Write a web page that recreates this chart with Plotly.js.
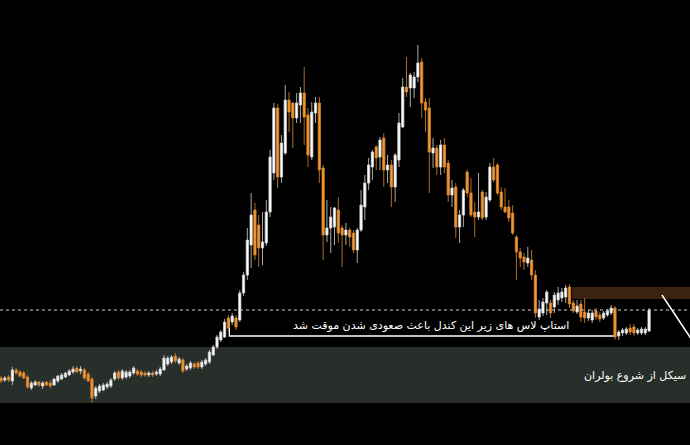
<!DOCTYPE html>
<html>
<head>
<meta charset="utf-8">
<script src="https://cdn.plot.ly/plotly-2.35.2.min.js"></script>
<style>
html,body{margin:0;padding:0;background:#000;overflow:hidden;}
#chart{width:690px;height:445px;}
</style>
</head>
<body>
<div id="chart"></div>
<script>
// Candle prices (arbitrary price units)
const openP = [67,65,68,64,75,73,72,68,57,60,63,59,63,62,60,64,66,68,70,73,
77,74,75,71,66,49,54,55,58,59,66,73,67,68,69,72,74,73,72,70,
72,71,71,75,81,83,89,82,85,76,77,81,82,78,81,83,90,98,105,108,
127,123,127,125,152,170,200,235,220,197,202,233,272,337,268,292,345,342,327,340,
352,330,288,332,342,277,210,217,218,235,217,210,215,212,195,215,238,262,278,298,
288,307,275,280,258,285,318,358,357,357,368,383,343,337,292,297,278,300,282,250,
258,218,230,273,252,233,228,253,228,245,278,280,253,238,238,232,208,193,188,182,
185,170,128,132,142,142,138,145,147,148,158,142,133,141,133,127,125,134,130,127,
130,132,137,109,112,112,117,118,112,112,112,114];
const highP = [69,69,70,78,77,75,74,70,64,65,64,64,64,65,67,70,72,73,76,79,
79,79,77,73,68,59,61,62,63,67,74,75,76,75,75,79,76,75,74,74,
74,75,78,90,89,90,92,88,87,81,84,83,84,85,87,95,100,110,115,126,
130,132,130,155,173,217,252,242,230,233,245,295,342,341,310,360,353,343,352,358,
378,337,343,348,348,280,245,238,238,248,220,222,217,215,217,255,270,287,295,300,
308,312,290,285,292,332,367,388,372,373,400,387,347,347,307,300,305,307,285,265,
262,235,257,275,267,243,272,255,253,282,287,282,258,257,245,240,210,197,192,198,
195,175,145,147,155,145,153,158,157,160,161,145,145,145,147,135,135,137,133,134,
136,140,139,115,117,118,121,121,117,118,118,137];
const lowP = [62,63,63,60,70,68,66,56,55,59,58,56,59,57,59,62,65,67,69,71,
72,71,65,63,42,46,52,54,56,57,64,65,65,66,67,70,69,68,68,68,
68,69,69,74,79,81,82,80,72,74,75,76,76,76,79,81,89,96,103,107,
114,120,115,123,149,165,177,185,178,180,199,228,265,257,262,290,313,297,322,322,
300,278,285,322,262,185,203,192,200,202,178,200,198,192,182,213,225,255,265,275,
275,258,262,238,243,278,317,348,338,347,363,327,313,252,277,270,270,272,243,238,
207,202,218,248,228,208,225,225,225,243,263,250,235,232,223,210,165,178,175,178,
165,127,125,129,130,127,132,140,143,142,137,132,131,123,122,124,122,125,123,125,
128,130,105,105,109,110,110,109,110,110,110,113];
const closeP = [64,67,65,75,72,69,67,58,62,63,60,62,60,59,66,69,70,72,74,76,
73,76,67,64,47,57,59,60,61,65,72,67,74,73,73,77,71,70,70,72,
70,73,76,87,87,88,84,86,74,79,82,78,78,83,85,93,98,108,113,123,
117,129,118,152,170,205,230,190,197,203,233,288,337,268,302,345,333,327,342,352,
328,290,333,342,275,210,217,228,237,212,210,215,208,195,215,240,262,280,293,287,
305,275,280,258,290,322,358,353,370,368,382,342,335,293,297,278,300,278,250,257,
218,230,255,252,230,228,233,227,248,278,265,252,238,233,227,212,193,187,183,187,
170,132,136,143,153,132,150,152,153,157,141,134,139,128,127,132,132,128,126,132,
134,137,108,113,115,116,113,112,115,116,116,135];

// Reference levels and notes
const noteText = "استاپ لاس های زیر این کندل باعث صعودی شدن موقت شد";
const bandText = "سیکل از شروع بولران";
const supportLevel = 109;      // white line
const supportStart = 60, supportEnd = 162;
const dottedLevel = 135;
const zoneLow = 42, zoneHigh = 98;        // green-grey band
const brownLow = 146, brownHigh = 158, brownStart = 150.7;

const bars = openP.map((_, i) => i);

const trace = {
  type: 'candlestick',
  x: bars, open: openP, high: highP, low: lowP, close: closeP,
  increasing: {line: {color: '#d4d4d4', width: 0.8}, fillcolor: '#ffffff'},
  decreasing: {line: {color: '#d9862e', width: 0.8}, fillcolor: '#f5982f'},
  whiskerwidth: 0,
  hoverinfo: 'skip'
};

const layout = {
  width: 690, height: 445,
  margin: {l: 0, r: 0, t: 0, b: 0},
  paper_bgcolor: '#000000',
  plot_bgcolor: '#000000',
  showlegend: false,
  hovermode: false,
  boxgap: 0.15,
  xaxis: {range: [-0.264, 181.8], visible: false, rangeslider: {visible: false}, fixedrange: true},
  yaxis: {range: [0, 445], visible: false, fixedrange: true},
  shapes: [
    {type: 'rect', xref: 'paper', x0: 0, x1: 1, yref: 'y', y0: zoneLow, y1: zoneHigh,
     fillcolor: '#282e2a', line: {width: 0}, layer: 'below'},
    {type: 'rect', xref: 'x', x0: brownStart, x1: 185, yref: 'y', y0: brownLow, y1: brownHigh,
     fillcolor: '#3a2310', line: {width: 0}, layer: 'below'},
    {type: 'line', xref: 'paper', x0: 0, x1: 1, yref: 'y', y0: dottedLevel, y1: dottedLevel,
     line: {color: '#d0d0d0', width: 1, dash: 'dot'}, layer: 'below'},
    {type: 'path', xref: 'x', yref: 'y',
     path: `M ${supportStart + 0.25} 126 L ${supportStart + 0.25} ${supportLevel} L ${supportEnd} ${supportLevel}`,
     line: {color: '#ffffff', width: 1.3}, layer: 'below'},
    {type: 'line', xref: 'x', yref: 'y', x0: 174.4, y0: 150, x1: 182.3, y1: 105,
     line: {color: '#ffffff', width: 1.5}}
  ],
  annotations: [
    {xref: 'x', yref: 'y', x: 113.5, y: 120, text: noteText, showarrow: false,
     font: {family: 'DejaVu Sans', size: 11, color: '#ffffff'}, xanchor: 'center', yanchor: 'middle'},
    {xref: 'paper', yref: 'y', x: 688 / 690, y: 70, text: bandText, showarrow: false,
     font: {family: 'DejaVu Sans', size: 11, color: '#ffffff'}, xanchor: 'right', yanchor: 'middle'}
  ]
};

Plotly.newPlot('chart', [trace], layout, {displayModeBar: false, staticPlot: true});
</script>
</body>
</html>
